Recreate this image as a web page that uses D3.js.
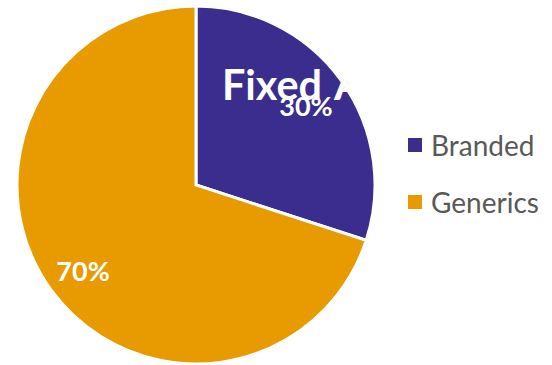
<!DOCTYPE html>
<html><head><meta charset="utf-8">
<script src="https://cdn.jsdelivr.net/npm/d3@7"></script>
<style>body{margin:0;background:#fff}svg{display:block}</style>
</head><body>
<svg id="c" width="552" height="365"></svg>
<script>
const categories = ["Branded", "Generics"];
const values = [30, 70];
const labels = ["30%", "70%"];
const titleWords = ["Fixed", "Assets"];
const colors = ["#3b2d8e", "#e89b00"];

const svg = d3.select("#c");
const cx = 196, cy = 185, r = 179;
const pie = d3.pie().sort(null).value(d => d)(values);
const arc = d3.arc().innerRadius(0).outerRadius(r);
const lab = d3.arc().innerRadius(r * 0.78).outerRadius(r * 0.78);
const g = svg.append("g").attr("transform", `translate(${cx},${cy})`);
g.selectAll("path").data(pie).join("path")
  .attr("d", arc).attr("fill", (d, i) => colors[i])
  .attr("stroke", "#fff").attr("stroke-width", 3);
g.selectAll("text").data(pie).join("text")
  .attr("transform", (d, i) => { const c = lab.centroid(d); return `translate(${c[0] - (i === 0 ? 3 : 0)},${c[1] + 4})`; })
  .attr("text-anchor", "middle").attr("dy", "0.35em")
  .attr("fill", "#fff").attr("font-family", "Lato, sans-serif")
  .attr("font-weight", "bold").attr("font-size", 27)
  .text((d, i) => labels[i]);

const t = svg.append("text").attr("y", 100)
  .attr("fill", "#fff").attr("font-family", "Lato, sans-serif")
  .attr("font-weight", "bold").attr("font-size", 42);
t.append("tspan").attr("x", 222).attr("textLength", 100).attr("lengthAdjust", "spacingAndGlyphs").text(titleWords[0]);
t.append("tspan").text(" ");
t.append("tspan").attr("x", 334).attr("textLength", 127).attr("lengthAdjust", "spacingAndGlyphs").text(titleWords[1]);

const leg = svg.append("g");
const y = d3.scalePoint().domain(categories).range([145, 202]);
categories.forEach((c, i) => {
  leg.append("rect").attr("x", 408).attr("y", y(c) - 7).attr("width", 14).attr("height", 14).attr("fill", colors[i]);
  leg.append("text").attr("x", 431).attr("y", y(c) + 11)
    .attr("fill", "#595959").attr("font-family", "Lato, sans-serif")
    .attr("font-size", 28).text(c);
});
</script>
</body></html>
